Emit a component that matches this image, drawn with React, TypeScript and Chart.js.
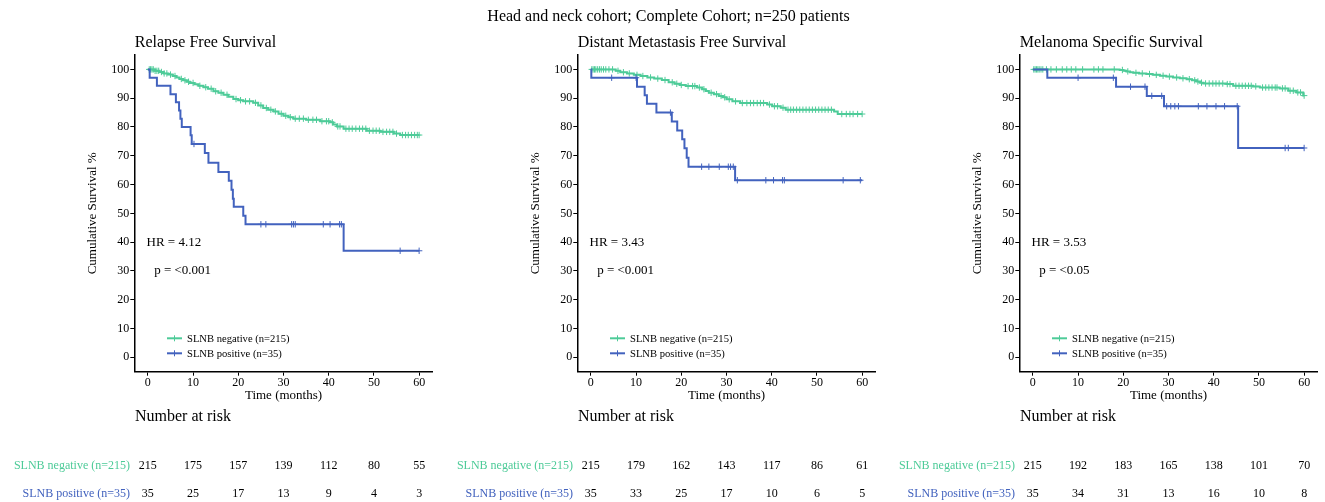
import React, { useEffect, useRef } from 'react';
import { Chart, registerables } from 'chart.js';

Chart.register(...registerables);

const FONT = "'Liberation Serif', 'Times New Roman', serif";
const GREEN = '#4DCB98';
const BLUE = '#4262BE';

const mainTitle = 'Head and neck cohort; Complete Cohort; n=250 patients';
const xTicks = [0, 10, 20, 30, 40, 50, 60];
const yTicks = [0, 10, 20, 30, 40, 50, 60, 70, 80, 90, 100];
const groupLabels = ['SLNB negative (n=215)', 'SLNB positive (n=35)'];

// ---------- Relapse Free Survival ----------
const rfsNegT = [0, 1.5, 2.5, 3.5, 4.5, 5.5, 6.3, 7.0, 7.8, 8.6, 9.3, 10.3, 11.2, 12.3, 13.3, 14.5, 15.6, 16.7, 17.8, 18.9, 20.0, 21.1, 23.3, 24.4, 25.5, 26.6, 27.8, 28.9, 30.0, 31.1, 32.2, 35.0, 38.1, 40.3, 41.0, 41.8, 43.3, 48.4, 51.4, 54.4, 55.8, 60];
const rfsNegS = [100, 99.5, 99.1, 98.6, 98.2, 97.7, 97.2, 96.7, 96.2, 95.7, 95.3, 94.8, 94.3, 93.8, 93.3, 92.4, 91.9, 91.2, 90.5, 89.7, 89.3, 88.9, 88.4, 87.5, 86.6, 86.0, 85.4, 84.6, 83.9, 83.4, 82.9, 82.5, 82.0, 81.6, 80.9, 80.2, 79.4, 78.7, 78.3, 77.7, 77.2, 77.2];
const rfsNegCens = [0.3, 0.6, 0.9, 1.2, 1.6, 2.0, 2.4, 3.0, 3.6, 4.2, 5.0, 6.0, 7.4, 8.2, 9.0, 10.0, 11.5, 12.8, 14.0, 15.0, 16.2, 17.5, 19.5, 20.5, 21.6, 22.5, 23.8, 25.0, 26.2, 27.2, 28.2, 29.5, 30.5, 31.5, 32.6, 33.5, 34.4, 35.5, 36.5, 37.3, 38.5, 39.5, 40.0, 40.8, 42.0, 42.5, 43.8, 44.5, 45.2, 46.0, 46.8, 47.5, 48.2, 49.0, 49.8, 50.5, 51.2, 52.0, 52.8, 53.5, 54.2, 55.0, 56.3, 57.0, 57.6, 58.3, 59.0, 59.6, 60.0];
const rfsPosT = [0, 0.4, 2.0, 5.0, 6.2, 6.9, 7.2, 7.5, 9.45, 9.7, 12.6, 13.4, 15.6, 17.9, 18.5, 18.8, 19.0, 21.1, 21.6, 43.3, 60];
const rfsPosS = [100, 97.1, 94.3, 91.4, 88.6, 85.7, 82.9, 80.0, 77.1, 74.1, 71.0, 67.6, 64.4, 61.3, 58.2, 55.1, 52.3, 49.2, 46.2, 37.0, 37.0];
const rfsPosCens = [10.2, 25.0, 26.1, 31.8, 32.2, 32.6, 38.8, 40.3, 42.4, 42.8, 55.8, 60.0];
const rfsRiskNeg = [215, 175, 157, 139, 112, 80, 55];
const rfsRiskPos = [35, 25, 17, 13, 9, 4, 3];

// ---------- Distant Metastasis Free Survival ----------
const dmNegT = [0, 5.5, 6.5, 8.0, 9.5, 11.0, 12.5, 14.0, 15.7, 17.2, 18.5, 19.7, 21.0, 23.5, 24.6, 25.4, 26.1, 27.2, 28.3, 29.2, 30.0, 31.3, 33.0, 39.0, 40.1, 42.0, 43.1, 53.8, 54.6, 60];
const dmNegS = [100, 99.5, 99.0, 98.6, 98.1, 97.7, 97.2, 96.8, 96.3, 95.5, 95.0, 94.6, 94.2, 93.7, 93.1, 92.5, 91.9, 91.4, 90.8, 90.3, 89.6, 88.9, 88.3, 87.8, 87.2, 86.7, 86.0, 85.4, 84.5, 84.5];
const dmNegCens = [0.2, 0.5, 0.8, 1.1, 1.5, 1.9, 2.3, 2.8, 3.3, 4.0, 4.8, 6.0, 7.2, 8.5, 10.2, 11.5, 13.2, 14.8, 16.4, 18.0, 19.0, 20.0, 21.5, 22.5, 23.0, 24.0, 25.0, 26.6, 27.8, 28.8, 29.6, 30.6, 32.0, 33.5, 34.5, 35.3, 36.0, 36.8, 37.5, 38.2, 39.5, 40.6, 41.3, 42.5, 43.6, 44.2, 44.8, 45.5, 46.2, 46.9, 47.6, 48.3, 49.0, 49.7, 50.4, 51.1, 51.8, 52.5, 53.2, 55.5, 56.5, 57.3, 58.0, 59.0, 60.0];
const dmPosT = [0, 0.1, 10.2, 11.9, 12.4, 14.5, 17.9, 19.1, 20.2, 20.7, 21.2, 21.6, 31.9, 60];
const dmPosS = [100, 97.1, 94.0, 91.0, 88.1, 85.0, 81.9, 78.8, 75.7, 72.6, 69.3, 66.2, 61.5, 61.5];
const dmPosCens = [4.6, 10.0, 17.6, 24.5, 26.1, 28.4, 30.4, 30.9, 31.5, 32.4, 38.7, 40.4, 42.4, 42.8, 55.8, 59.6];
const dmRiskNeg = [215, 179, 162, 143, 117, 86, 61];
const dmRiskPos = [35, 33, 25, 17, 10, 6, 5];

// ---------- Melanoma Specific Survival ----------
const mssNegT = [0, 19.2, 20.0, 20.7, 21.5, 22.2, 23.5, 25.1, 26.5, 28.1, 29.5, 31.0, 32.5, 34.0, 35.2, 36.2, 37.0, 37.7, 42.8, 44.3, 48.7, 50.2, 54.6, 56.5, 58.3, 59.8, 60];
const mssNegS = [100, 99.8, 99.5, 99.3, 99.0, 98.8, 98.6, 98.4, 98.1, 97.8, 97.5, 97.2, 96.9, 96.6, 96.2, 95.8, 95.4, 95.1, 94.9, 94.3, 94.1, 93.7, 93.4, 92.6, 92.0, 90.9, 90.9];
const mssNegCens = [0.2, 0.5, 0.8, 1.1, 1.4, 1.8, 2.2, 3.0, 4.0, 5.2, 6.5, 7.5, 8.5, 9.5, 11.0, 13.5, 14.5, 15.5, 18.0, 19.8, 21.0, 22.8, 24.2, 25.8, 27.3, 28.8, 30.2, 31.8, 33.2, 34.6, 35.8, 36.5, 37.3, 38.2, 39.0, 39.8, 40.5, 41.2, 42.0, 43.0, 43.6, 44.9, 45.6, 46.3, 47.0, 47.7, 48.3, 49.3, 50.8, 51.5, 52.2, 52.9, 53.6, 54.0, 55.2, 55.8, 56.9, 57.6, 58.6, 59.2, 60.0];
const mssPosT = [0, 3.2, 18.4, 25.2, 29.0, 45.4, 60];
const mssPosS = [100, 97.1, 94.0, 90.8, 87.2, 72.7, 72.7];
const mssPosCens = [10.0, 17.8, 21.6, 24.8, 26.3, 28.5, 29.6, 30.5, 31.4, 32.2, 36.6, 38.5, 40.5, 42.4, 45.2, 55.8, 56.5, 60.0];
const mssRiskNeg = [215, 192, 183, 165, 138, 101, 70];
const mssRiskPos = [35, 34, 31, 13, 16, 10, 8];

type PanelProps = {
  left: number;
  title: string;
  hr: string;
  p: string;
  negT: number[]; negS: number[]; negCens: number[];
  posT: number[]; posS: number[]; posCens: number[];
  riskNeg: number[]; riskPos: number[];
};

const CW = 440;
const CH = 502;
const AREA_LEFT = 134.3;
const AREA_RIGHT = 432.7;
const AREA_TOP = 55;
const AREA_BOTTOM = 371.7;

function survAt(T: number[], S: number[], t: number) {
  let v = S[0];
  for (let i = 0; i < T.length; i++) {
    if (T[i] <= t) v = S[i];
  }
  return v;
}

function Panel(props: PanelProps) {
  const ref = useRef<HTMLCanvasElement | null>(null);
  useEffect(() => {
    const canvas = ref.current;
    if (!canvas) return;
    const { negT, negS, negCens, posT, posS, posCens } = props;

    const annot = {
      id: 'annot',
      afterDraw(chart: any) {
        const ctx = chart.ctx as CanvasRenderingContext2D;
        const ca = chart.chartArea;
        const xs = chart.scales.x;
        const ys = chart.scales.y;
        ctx.save();
        ctx.fillStyle = '#000';
        ctx.textBaseline = 'middle';
        // panel title
        ctx.font = `16px ${FONT}`;
        ctx.textAlign = 'left';
        ctx.fillText(props.title, ca.left + 0.5, 42.5);
        // y label
        ctx.save();
        ctx.font = `13px ${FONT}`;
        ctx.translate(93, (ca.top + ca.bottom) / 2);
        ctx.rotate(-Math.PI / 2);
        ctx.textAlign = 'center';
        ctx.fillText('Cumulative Survival %', 0, 0);
        ctx.restore();
        // x label
        ctx.font = `13px ${FONT}`;
        ctx.textAlign = 'center';
        ctx.fillText('Time (months)', (ca.left + ca.right) / 2, ca.bottom + 23.5);
        // HR / p
        ctx.textAlign = 'left';
        ctx.font = `13px ${FONT}`;
        ctx.fillText(props.hr, xs.getPixelForValue(-0.3), ys.getPixelForValue(40));
        ctx.fillText(props.p, xs.getPixelForValue(1.4), ys.getPixelForValue(30));
        // legend
        const cols = [GREEN, BLUE];
        ctx.font = `10.6px ${FONT}`;
        for (let i = 0; i < 2; i++) {
          const ly = ca.bottom - 33.4 + i * 15;
          const lx0 = ca.left + 32.7;
          const lx1 = ca.left + 47.7;
          ctx.strokeStyle = cols[i];
          ctx.lineWidth = 2;
          ctx.beginPath();
          ctx.moveTo(lx0, ly);
          ctx.lineTo(lx1, ly);
          ctx.stroke();
          ctx.lineWidth = 1;
          ctx.beginPath();
          const cx = (lx0 + lx1) / 2;
          ctx.moveTo(cx, ly - 3);
          ctx.lineTo(cx, ly + 3);
          ctx.stroke();
          ctx.fillStyle = '#000';
          ctx.fillText(groupLabels[i], ca.left + 52.7, ly + 0.5);
        }
        // number at risk
        ctx.fillStyle = '#000';
        ctx.font = `16px ${FONT}`;
        ctx.textAlign = 'left';
        ctx.fillText('Number at risk', ca.left + 0.7, ca.bottom + 45.3);
        const rows = [props.riskNeg, props.riskPos];
        for (let r = 0; r < 2; r++) {
          const ry = ca.bottom + 94 + r * 28;
          ctx.font = `12px ${FONT}`;
          ctx.textAlign = 'right';
          ctx.fillStyle = cols[r];
          ctx.fillText(groupLabels[r], ca.left - 4.3, ry);
          ctx.fillStyle = '#000';
          ctx.textAlign = 'center';
          rows[r].forEach((v, i) => {
            ctx.fillText(String(v), xs.getPixelForValue(xTicks[i]), ry);
          });
        }
        ctx.restore();
      },
    };

    const tickFont = { family: FONT, size: 12 };
    const chart = new Chart(canvas, {
      type: 'line',
      data: {
        datasets: [
          {
            data: posT.map((t, i) => ({ x: t, y: posS[i] })),
            borderColor: BLUE,
            borderWidth: 2,
            stepped: true,
            pointRadius: 0,
            fill: false,
          },
          {
            data: posCens.map((t) => ({ x: t, y: survAt(posT, posS, t) })),
            showLine: false,
            pointStyle: 'cross',
            pointRadius: 3.2,
            pointBorderWidth: 1,
            borderColor: BLUE,
            pointBorderColor: BLUE,
          },
          {
            data: negT.map((t, i) => ({ x: t, y: negS[i] })),
            borderColor: GREEN,
            borderWidth: 2,
            stepped: true,
            pointRadius: 0,
            fill: false,
          },
          {
            data: negCens.map((t) => ({ x: t, y: survAt(negT, negS, t) })),
            showLine: false,
            pointStyle: 'cross',
            pointRadius: 3.2,
            pointBorderWidth: 1,
            borderColor: GREEN,
            pointBorderColor: GREEN,
          },
        ],
      } as any,
      options: {
        animation: false,
        responsive: false,
        events: [],
        layout: { padding: { left: 0, right: CW - AREA_RIGHT, top: AREA_TOP, bottom: 0 } },
        plugins: {
          legend: { display: false },
          tooltip: { enabled: false },
          title: { display: false },
        },
        scales: {
          x: {
            type: 'linear',
            min: -3,
            max: 63,
            afterBuildTicks: (s: any) => { s.ticks = xTicks.map((v) => ({ value: v })); },
            afterFit: (s: any) => { s.height = CH - AREA_BOTTOM; },
            grid: { display: true, drawOnChartArea: false, drawTicks: true, tickLength: 4, color: '#000', lineWidth: 1 },
            border: { display: true, color: '#000', width: 1.5 },
            ticks: { color: '#000', font: tickFont, padding: 0, maxRotation: 0, autoSkip: false },
          },
          y: {
            type: 'linear',
            min: -5,
            max: 105,
            afterBuildTicks: (s: any) => { s.ticks = yTicks.map((v) => ({ value: v })); },
            afterFit: (s: any) => { s.width = AREA_LEFT; },
            grid: { display: true, drawOnChartArea: false, drawTicks: true, tickLength: 4, color: '#000', lineWidth: 1 },
            border: { display: true, color: '#000', width: 1.5 },
            ticks: { color: '#000', font: tickFont, padding: 1, autoSkip: false },
          },
        },
      } as any,
      plugins: [annot],
    });
    return () => chart.destroy();
  }, []);
  return (
    <canvas
      ref={ref}
      width={CW}
      height={CH}
      style={{ position: 'absolute', left: props.left, top: 0, width: CW, height: CH, display: 'block' }}
    />
  );
}

export default function App() {
  useEffect(() => {
    document.body.style.margin = '0';
  }, []);
  return (
    <div style={{ position: 'relative', width: 1325, height: 502, overflow: 'hidden', background: '#fff' }}>
      <Panel left={0} title="Relapse Free Survival" hr="HR = 4.12" p="p = <0.001"
        negT={rfsNegT} negS={rfsNegS} negCens={rfsNegCens}
        posT={rfsPosT} posS={rfsPosS} posCens={rfsPosCens}
        riskNeg={rfsRiskNeg} riskPos={rfsRiskPos} />
      <Panel left={443} title="Distant Metastasis Free Survival" hr="HR = 3.43" p="p = <0.001"
        negT={dmNegT} negS={dmNegS} negCens={dmNegCens}
        posT={dmPosT} posS={dmPosS} posCens={dmPosCens}
        riskNeg={dmRiskNeg} riskPos={dmRiskPos} />
      <Panel left={885} title="Melanoma Specific Survival" hr="HR = 3.53" p="p = <0.05"
        negT={mssNegT} negS={mssNegS} negCens={mssNegCens}
        posT={mssPosT} posS={mssPosS} posCens={mssPosCens}
        riskNeg={mssRiskNeg} riskPos={mssRiskPos} />
      <div style={{
        position: 'absolute', top: 1, left: 668.5, transform: 'translateX(-50%)',
        height: 30, lineHeight: '30px', fontFamily: FONT, fontSize: 16, color: '#000', whiteSpace: 'nowrap',
      }}>{mainTitle}</div>
    </div>
  );
}
